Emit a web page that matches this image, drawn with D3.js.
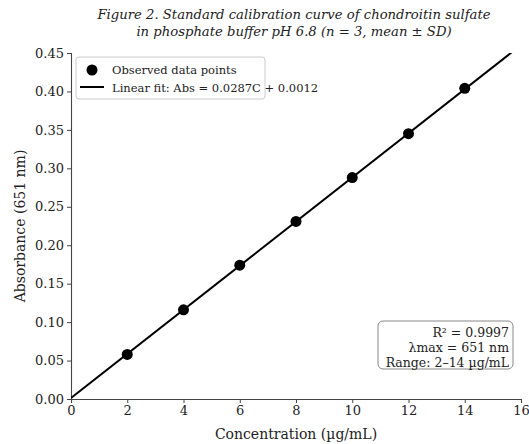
<!DOCTYPE html>
<html>
<head>
<meta charset="utf-8">
<script src="https://cdn.jsdelivr.net/npm/d3@7"></script>
<style>
  body { margin: 0; background: #fff; }
  svg text { font-family: "DejaVu Serif", serif; fill: #222; }
</style>
</head>
<body>
<svg id="chart" width="529" height="444"></svg>
<script>
// data
const concentrations = [2, 4, 6, 8, 10, 12, 14];
const absorbances = [0.058, 0.116, 0.174, 0.231, 0.288, 0.345, 0.404];
const fitSlope = 0.0287;
const fitIntercept = 0.0012;
const xTicks = [0, 2, 4, 6, 8, 10, 12, 14, 16];
const yTicks = [0, 0.05, 0.10, 0.15, 0.20, 0.25, 0.30, 0.35, 0.40, 0.45];
const titleLines = ["Figure 2. Standard calibration curve of chondroitin sulfate",
                    "in phosphate buffer pH 6.8 (n = 3, mean \u00b1 SD)"];
const legendLabels = ["Observed data points", "Linear fit: Abs = 0.0287C + 0.0012"];
const statLines = ["R\u00b2 = 0.9997", "\u03bbmax = 651 nm", "Range: 2\u201314 \u00b5g/mL"];

const svg = d3.select("#chart");
const margin = {left: 71, right: 8, top: 53, bottom: 45};
const width = 529, height = 444;

const x = d3.scaleLinear().domain([0, 16]).range([margin.left, width - margin.right]);
const y = d3.scaleLinear().domain([0, 0.45]).range([height - margin.bottom, margin.top]);

// clip for the fit line
svg.append("clipPath").attr("id", "plotclip")
  .append("rect")
  .attr("x", x(0)).attr("y", y(0.45))
  .attr("width", x(16) - x(0)).attr("height", y(0) - y(0.45));

// title
svg.append("g").selectAll("text")
  .data(titleLines)
  .enter().append("text")
  .attr("x", 294)
  .attr("y", (d, i) => 19 + i * 17)
  .attr("text-anchor", "middle")
  .style("font-style", "italic")
  .style("font-size", "13.2px")
  .text(d => d);

// axes
const xAxis = d3.axisBottom(x).tickValues(xTicks).tickFormat(d3.format("d")).tickSizeOuter(0).tickSize(4).tickPadding(3);
const yAxis = d3.axisLeft(y).tickValues(yTicks).tickFormat(d3.format(".2f")).tickSizeOuter(0).tickSize(4).tickPadding(3);

const gx = svg.append("g").attr("transform", `translate(0,${y(0)})`).call(xAxis);
const gy = svg.append("g").attr("transform", `translate(${x(0)},0)`).call(yAxis);
[gx, gy].forEach(g => {
  g.selectAll("text").style("font-size", "13px").style("font-family", "DejaVu Serif").attr("fill", "#222");
  g.selectAll("line").attr("stroke", "#444");
  g.select(".domain").attr("stroke", "#444").attr("stroke-width", 1.1);
});

// axis labels
svg.append("text")
  .attr("x", (x(0) + x(16)) / 2)
  .attr("y", 439)
  .attr("text-anchor", "middle")
  .style("font-size", "14px")
  .text("Concentration (\u00b5g/mL)");

svg.append("text")
  .attr("transform", `translate(25,${(y(0) + y(0.45)) / 2}) rotate(-90)`)
  .attr("text-anchor", "middle")
  .style("font-size", "14px")
  .text("Absorbance (651 nm)");

// fit line
const fitX = [0, 16];
svg.append("path")
  .attr("clip-path", "url(#plotclip)")
  .attr("d", d3.line().x(d => x(d)).y(d => y(fitSlope * d + fitIntercept))(fitX))
  .attr("fill", "none")
  .attr("stroke", "#000")
  .attr("stroke-width", 2);

// points
svg.append("g").selectAll("circle")
  .data(concentrations)
  .enter().append("circle")
  .attr("cx", d => x(d))
  .attr("cy", (d, i) => y(absorbances[i]))
  .attr("r", 5.5)
  .attr("fill", "#000");

// legend
const lg = svg.append("g").attr("transform", "translate(76,57)");
lg.append("rect")
  .attr("width", 189).attr("height", 42).attr("rx", 3)
  .attr("fill", "#fff").attr("fill-opacity", 0.8)
  .attr("stroke", "#ccc");
lg.append("circle").attr("cx", 16).attr("cy", 13).attr("r", 5.5).attr("fill", "#000");
lg.append("line").attr("x1", 4).attr("x2", 28).attr("y1", 30).attr("y2", 30)
  .attr("stroke", "#000").attr("stroke-width", 2);
lg.selectAll("text.lab")
  .data(legendLabels)
  .enter().append("text")
  .attr("class", "lab")
  .attr("x", 36)
  .attr("y", (d, i) => 17 + i * 18)
  .style("font-size", "11.5px")
  .text(d => d);

// stats box
const sb = svg.append("g");
sb.append("rect")
  .attr("x", 378).attr("y", 321).attr("width", 135).attr("height", 48).attr("rx", 5)
  .attr("fill", "#fff").attr("stroke", "#888");
sb.selectAll("text")
  .data(statLines)
  .enter().append("text")
  .attr("x", 509)
  .attr("y", (d, i) => 337 + i * 15)
  .attr("text-anchor", "end")
  .style("font-size", "12.5px")
  .text(d => d);
</script>
</body>
</html>
